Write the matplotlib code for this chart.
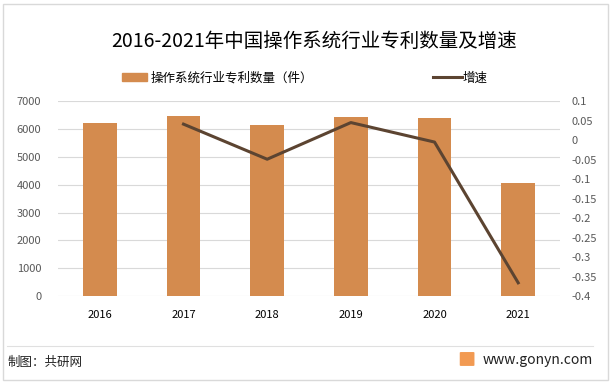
import matplotlib
matplotlib.use("Agg")
import matplotlib.pyplot as plt
from matplotlib.lines import Line2D
from matplotlib.patches import Rectangle, FancyBboxPatch

plt.rcParams['font.family'] = ['Noto Sans CJK SC', 'DejaVu Sans']

years = ['2016', '2017', '2018', '2019', '2020', '2021']
patents = [6210, 6460, 6140, 6425, 6390, 4055]
growth_years = ['2017', '2018', '2019', '2020', '2021']
growth = [0.041, -0.049, 0.045, -0.005, -0.366]
left_ticks = [0, 1000, 2000, 3000, 4000, 5000, 6000, 7000]
right_ticks = [0.1, 0.05, 0, -0.05, -0.1, -0.15, -0.2, -0.25, -0.3, -0.35, -0.4]

bar_color = '#D48B4E'
line_color = '#5C4431'

fig = plt.figure(figsize=(6.13, 3.86), dpi=100)
fig.patches.append(Rectangle((0.005, 0.0155), 0.987, 0.974, transform=fig.transFigure,
                             fill=False, edgecolor='#D9D9D9', linewidth=1))

ax = fig.add_axes([0.0946, 0.233, 0.819, 0.505])
x = list(range(len(years)))
ax.bar(x, patents, width=0.4, color=bar_color, zorder=2)
ax.set_xlim(-0.5, 5.5)
ax.set_ylim(0, 7000)
ax.set_yticks(left_ticks)
ax.set_yticklabels([str(t) for t in left_ticks])
ax.set_xticks(x)
ax.set_xticklabels(years)
ax.grid(axis='y', color='#D9D9D9', linewidth=0.8, zorder=0)
for s in ax.spines.values():
    s.set_visible(False)
ax.tick_params(axis='y', length=0, labelsize=8, labelcolor='#595959', pad=12)
ax.tick_params(axis='x', length=0, labelsize=8, labelcolor='#000000', pad=10)

ax2 = ax.twinx()
gx = [years.index(y) for y in growth_years]
ax2.plot(gx, growth, color=line_color, linewidth=2.2, zorder=3)
ax2.set_ylim(-0.4, 0.1)
ax2.set_yticks(right_ticks)
ax2.set_yticklabels([('%g' % t) for t in right_ticks])
for s in ax2.spines.values():
    s.set_visible(False)
ax2.tick_params(axis='y', length=0, labelsize=8, labelcolor='#595959', pad=8)
ax2.set_xlim(-0.5, 5.5)

fig.text(0.512, 0.893, '2016-2021年中国操作系统行业专利数量及增速', ha='center', va='center',
         fontsize=14, color='#000000')

handles = [Rectangle((0, 0), 1, 1, color=bar_color),
           Line2D([0], [0], color=line_color, linewidth=2.2)]
fig.legend(handles[:1], ['操作系统行业专利数量（件）'], loc='center left', bbox_to_anchor=(0.199, 0.798),
           frameon=False, fontsize=9, handlelength=2.0, handleheight=0.6, handletextpad=0.25,
           borderpad=0, borderaxespad=0)
fig.legend(handles[1:], ['增速'], loc='center left', bbox_to_anchor=(0.706, 0.798),
           frameon=False, fontsize=9, handlelength=2.3, handletextpad=0.05,
           borderpad=0, borderaxespad=0)

fig.add_artist(Line2D([0.012, 0.967], [0.104, 0.104], transform=fig.transFigure,
                      color='#E0E0E0', linewidth=0.8))
fig.text(0.012, 0.060, '制图：共研网', ha='left', va='center', fontsize=9, color='#222222')
fig.patches.append(FancyBboxPatch((0.752, 0.054), 0.020, 0.032, transform=fig.transFigure,
                                  boxstyle='round,pad=0.002', facecolor='#F29A52', edgecolor='none'))
fig.text(0.967, 0.067, 'www.gonyn.com', ha='right', va='center', fontsize=10, color='#222222')

fig.savefig('out.png', dpi=100)
